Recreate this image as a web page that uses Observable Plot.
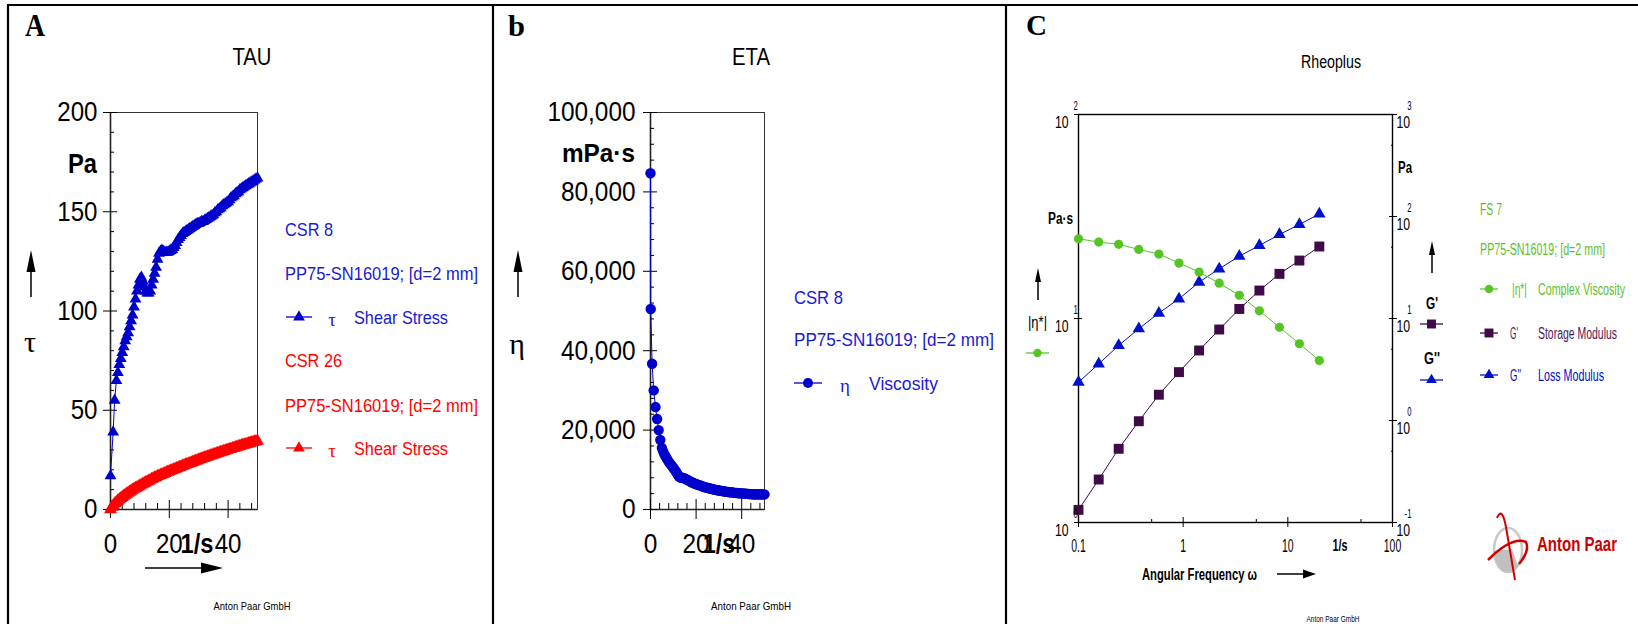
<!DOCTYPE html>
<html>
<head>
<meta charset="utf-8">
<script src="https://cdn.jsdelivr.net/npm/d3@7"></script>
<script src="https://cdn.jsdelivr.net/npm/@observablehq/plot@0.6"></script>
<style>
  body { margin: 0; background: #fff; }
  #fig { position: relative; width: 1638px; height: 624px; overflow: hidden; background: #fff; }
  #fig > svg { position: absolute; left: 0; top: 0; }
</style>
</head>
<body>
<div id="fig"></div>
<script>
// ---------- Panel A: shear stress (Pa) vs shear rate (1/s), two CSR runs ----------
const csr8 = [
  [0,17],[0.9,39],[1.4,55],[2,65],[2.5,69],[3,73],[3.5,76],[4,79],[4.5,82],[5,85],
  [5.5,87],[6,89],[6.5,92],[7,95],[7.5,98],[8,102],[8.5,106],[9,110],[9.5,113],[10,116],
  [10.5,117],[11,115],[11.5,112],[12,110],[12.5,109],[13,109],[13.5,110],[14,113],[14.5,116],[15,119],
  [15.5,122],[16,126],[16.5,129],[17,130],[17.5,130.5],[18,130],[18.5,129.5],[19,129.5],[19.5,129.5],[20,130],
  [20.5,130.5],[21,131],[21.5,132],[22,133],[22.5,134.5],[23,136],[23.5,137],[24,138],[24.5,139],[25,139.5],
  [25.5,140],[26,140.5],[26.5,141],[27,141.5],[27.5,142],[28,142.5],[28.5,143],[29,143.5],[29.5,144],[30,144],
  [30.5,144.5],[31,145],[31.5,145],[32,145.5],[32.5,146],[33,146.5],[33.5,147],[34,147.5],[34.5,148],[35,148.5],
  [35.5,149.5],[36,150],[36.5,151],[37,151.5],[37.5,152],[38,153],[38.5,153.5],[39,154],[39.5,154.5],[40,155],
  [40.5,156],[41,157],[41.5,157.5],[42,158],[42.5,159],[43,159.5],[43.5,160],[44,161],[44.5,161.5],[45,162],
  [45.5,162.5],[46,163],[46.5,163.5],[47,164],[47.5,164.5],[48,165],[48.5,165.5],[49,166],[49.5,166.5],[50,167]
];
const csr26 = [
  [0,0],[0.5,1.3],[1,2.2],[1.5,3],[2,3.7],[2.5,4.4],[3,5],[3.5,5.6],[4,6.2],[4.5,6.8],
  [5,7.3],[5.5,7.8],[6,8.3],[6.5,8.8],[7,9.3],[7.5,9.8],[8,10.3],[8.5,10.7],[9,11.1],[9.5,11.5],
  [10,12],[10.5,12.4],[11,12.8],[11.5,13.2],[12,13.6],[12.5,14],[13,14.4],[13.5,14.8],[14,15.2],[14.5,15.6],
  [15,16],[15.5,16.3],[16,16.7],[16.5,17],[17,17.3],[17.5,17.6],[18,17.9],[18.5,18.2],[19,18.6],[19.5,18.9],
  [20,19.2],[20.5,19.5],[21,19.8],[21.5,20.1],[22,20.4],[22.5,20.7],[23,21],[23.5,21.3],[24,21.6],[24.5,21.9],
  [25,22.2],[25.5,22.5],[26,22.8],[26.5,23],[27,23.3],[27.5,23.6],[28,23.9],[28.5,24.2],[29,24.4],[29.5,24.7],
  [30,25],[30.5,25.3],[31,25.5],[31.5,25.8],[32,26.1],[32.5,26.3],[33,26.6],[33.5,26.9],[34,27.1],[34.5,27.4],
  [35,27.6],[35.5,27.9],[36,28.1],[36.5,28.4],[37,28.6],[37.5,28.9],[38,29.1],[38.5,29.3],[39,29.6],[39.5,29.8],
  [40,30.1],[40.5,30.3],[41,30.5],[41.5,30.8],[42,31],[42.5,31.2],[43,31.5],[43.5,31.7],[44,31.9],[44.5,32.2],
  [45,32.4],[45.5,32.6],[46,32.8],[46.5,33],[47,33.3],[47.5,33.5],[48,33.7],[48.5,33.9],[49,34.1],[49.5,34.3],[50,34.5]
];
const tauTicks = [0, 50, 100, 150, 200];
const tauMinor = [10, 20, 30, 40, 60, 70, 80, 90, 110, 120, 130, 140, 160, 170, 180, 190];
const rateTicks = [0, 20, 40];
const rateMinor = [4, 8, 12, 16, 24, 28, 32, 36, 44, 48];

// ---------- Panel b: viscosity (mPa·s) vs shear rate (1/s) ----------
const viscosity = [
  [0,84700],[0.1,50500],[0.7,36700],[1.4,30000],[2.2,25800],[2.9,22800],[3.6,20000],[4.3,17500],
  [5,15500],[5.5,14700],[6,14000],[6.5,13500],[7,13000],[7.5,12500],[8,12000],[8.5,11600],[9,11300],[9.5,10900],
  [10,10500],[10.5,10100],[11,9700],[11.5,9200],[12,8700],[12.5,8300],[13,8100],[13.5,8000],[14,8000],[14.5,7900],
  [15,7800],[15.5,7650],[16,7500],[16.5,7350],[17,7200],[17.5,7050],[18,6900],[18.5,6750],[19,6600],[19.5,6500],
  [20,6400],[20.5,6300],[21,6200],[21.5,6100],[22,6000],[22.5,5900],[23,5800],[23.5,5700],[24,5600],[24.5,5500],
  [25,5450],[25.5,5400],[26,5300],[26.5,5250],[27,5150],[27.5,5100],[28,5000],[28.5,4950],[29,4900],[29.5,4850],
  [30,4800],[30.5,4750],[31,4700],[31.5,4650],[32,4600],[32.5,4550],[33,4500],[33.5,4450],[34,4400],[34.5,4380],
  [35,4350],[35.5,4320],[36,4300],[36.5,4250],[37,4200],[37.5,4180],[38,4150],[38.5,4120],[39,4100],[39.5,4070],
  [40,4050],[40.5,4020],[41,4000],[41.5,3980],[42,3950],[42.5,3930],[43,3900],[43.5,3880],[44,3870],[44.5,3860],
  [45,3850],[45.5,3840],[46,3830],[46.5,3820],[47,3810],[47.5,3800],[48,3800],[48.5,3800],[49,3800],[49.5,3810],[50,3820]
];
const etaTicks = [0, 20000, 40000, 60000, 80000, 100000];
const etaMinor = [4000, 8000, 12000, 16000, 24000, 28000, 32000, 36000, 44000, 48000, 52000, 56000, 64000, 68000, 72000, 76000, 84000, 88000, 92000, 96000];

// ---------- Panel C: frequency sweep ----------
const omega    = [0.1, 0.156, 0.242, 0.377, 0.586, 0.912, 1.42, 2.21, 3.44, 5.35, 8.32, 12.9, 20];
const etaStar  = [24.6, 23.7, 23.1, 21.8, 20.7, 18.7, 16.9, 14.9, 13.0, 10.9, 9.06, 7.52, 6.22];
const gStorage = [0.133, 0.264, 0.528, 0.984, 1.79, 2.98, 4.86, 7.80, 12.4, 18.8, 27.4, 37.0, 50.8];
const gLoss    = [2.37, 3.59, 5.44, 7.93, 11.3, 15.6, 22.7, 30.7, 40.8, 52.0, 66.6, 83.5, 106];
const omegaTicks = [0.1, 1, 10, 100];
const omegaMinor = [0.5, 5, 50];
const etaStarTicks = [1, 10, 100];
const modulusTicks = [0.1, 1, 10, 100, 1000];
const modulusMinor = [0.5, 5, 50, 500];

const sweep = omega.map((w, i) => ({w, etaStar: etaStar[i], gStorage: gStorage[i], gLoss: gLoss[i]}));

// ---------- look ----------
const W = 1638, H = 624;
const SANS = "'Liberation Sans', Arial, Helvetica, sans-serif";
const SERIF = "'Liberation Serif', 'Times New Roman', serif";
const BLUE = "#0000cc", BLUE_TXT = "#1a1ad2", RED = "#ff0000";
const GREEN = "#55c524", GREEN_TXT = "#5cc02c", PURPLE = "#3e0a47", PURPLE_TXT = "#4d1a57", BLUE_C = "#0010c8";
const base = {width: W, height: H, style: {background: "transparent", fontFamily: SANS, color: "#000", overflow: "visible"}};
const fig = document.getElementById("fig");

function condense(svg, selector, k) {
  svg.querySelectorAll(selector).forEach(t => {
    const len = t.getComputedTextLength();
    if (len > 0) {
      t.setAttribute("textLength", (len * k).toFixed(1));
      t.setAttribute("lengthAdjust", "spacingAndGlyphs");
    }
  });
}
const TICKTEXT = '[aria-label$="tick label"] text';

// Panel A
const plotA = Plot.plot({
  ...base,
  marginLeft: 110, marginRight: W - 257, marginTop: 112, marginBottom: H - 509,
  x: {domain: [0, 50]},
  y: {domain: [0, 200]},
  marks: [
    Plot.frame({stroke: "#333", strokeWidth: 1}),
    Plot.ruleX([0], {stroke: "#222", strokeWidth: 1.6}),
    Plot.ruleY([0], {stroke: "#222", strokeWidth: 1.6}),
    Plot.axisY({ticks: tauTicks, tickSize: 14, dx: 7, tickPadding: 6, fontSize: 28, label: null}),
    Plot.axisY({ticks: tauMinor, tickSize: 4, dx: 4, tickFormat: () => "", label: null}),
    Plot.axisX({ticks: rateTicks, tickSize: 18, dy: -9, tickPadding: 15, fontSize: 28, label: null}),
    Plot.axisX({ticks: rateMinor, tickSize: 6, dy: -6, tickFormat: () => "", label: null}),
    Plot.line(csr26, {x: d => d[0], y: d => d[1], stroke: RED, strokeWidth: 1}),
    Plot.dot(csr26, {x: d => d[0], y: d => d[1], symbol: "triangle", fill: RED, r: 4.8}),
    Plot.line(csr8, {x: d => d[0], y: d => d[1], stroke: BLUE, strokeWidth: 1}),
    Plot.dot(csr8, {x: d => d[0], y: d => d[1], symbol: "triangle", fill: BLUE, r: 4.4})
  ]
});

// Panel b
const plotB = Plot.plot({
  ...base,
  marginLeft: 650, marginRight: W - 764, marginTop: 112, marginBottom: H - 509,
  x: {domain: [0, 50]},
  y: {domain: [0, 100000]},
  marks: [
    Plot.frame({stroke: "#333", strokeWidth: 1}),
    Plot.ruleX([0], {stroke: "#222", strokeWidth: 1.6}),
    Plot.ruleY([0], {stroke: "#222", strokeWidth: 1.6}),
    Plot.axisY({ticks: etaTicks, tickSize: 14, dx: 7, tickPadding: 8, fontSize: 28, tickFormat: d3.format(","), label: null}),
    Plot.axisY({ticks: etaMinor, tickSize: 4, dx: 4, tickFormat: () => "", label: null}),
    Plot.axisX({ticks: rateTicks, tickSize: 20, dy: -10, tickPadding: 14, fontSize: 28, label: null}),
    Plot.axisX({ticks: rateMinor, tickSize: 6, dy: -6, tickFormat: () => "", label: null}),
    Plot.line(viscosity, {x: d => d[0], y: d => d[1], stroke: BLUE, strokeWidth: 1}),
    Plot.dot(viscosity, {x: d => d[0], y: d => d[1], fill: BLUE, r: 5.2})
  ]
});

// Panel C, moduli on the right-hand log axis
const plotCG = Plot.plot({
  ...base,
  marginLeft: 1078, marginRight: W - 1392, marginTop: 114, marginBottom: H - 522,
  x: {type: "log", domain: [0.1, 100]},
  y: {type: "log", domain: [0.1, 1000]},
  marks: [
    Plot.frame({stroke: "#000", strokeWidth: 1.4}),
    Plot.axisX({ticks: omegaTicks, tickSize: 10, dy: -5, tickPadding: 12, fontSize: 18, tickFormat: d => d < 1 ? "0.1" : String(d), label: null}),
    Plot.axisX({ticks: omegaMinor, tickSize: 3, dy: -3, tickFormat: () => "", label: null}),
    Plot.axisY({anchor: "right", ticks: modulusTicks, tickSize: 8, dx: -4, tickFormat: () => "", label: null}),
    Plot.axisY({anchor: "right", ticks: modulusMinor, tickSize: 2, dx: -2, tickFormat: () => "", label: null}),
    Plot.axisY({anchor: "right", ticks: modulusTicks, tickSize: 0, tickPadding: 4, dy: 8, fontSize: 17, tickFormat: () => "10", label: null}),
    Plot.text(modulusTicks, {y: d => d, text: d => String(Math.round(Math.log10(d))), frameAnchor: "right", dx: 19, dy: -9, fontSize: 13}),
    Plot.line(sweep, {x: "w", y: "gStorage", stroke: PURPLE, strokeWidth: 1}),
    Plot.dot(sweep, {x: "w", y: "gStorage", symbol: "square", fill: PURPLE, r: 5.6}),
    Plot.line(sweep, {x: "w", y: "gLoss", stroke: BLUE_C, strokeWidth: 1}),
    Plot.dot(sweep, {x: "w", y: "gLoss", symbol: "triangle", fill: BLUE_C, r: 4.6})
  ]
});

// Panel C, complex viscosity on the left-hand log axis (x axis already drawn above)
const plotCE = Plot.plot({
  ...base,
  marginLeft: 1078, marginRight: W - 1392, marginTop: 114, marginBottom: H - 522,
  x: {type: "log", domain: [0.1, 100], axis: null},
  y: {type: "log", domain: [1, 100]},
  marks: [
    Plot.axisY({ticks: etaStarTicks, tickSize: 8, dx: 4, tickFormat: () => "", label: null}),
    Plot.axisY({ticks: etaStarTicks, tickSize: 0, tickPadding: 10, dy: 8, fontSize: 17, tickFormat: () => "10", label: null}),
    Plot.text(etaStarTicks, {y: d => d, text: d => String(Math.round(Math.log10(d))), frameAnchor: "left", dx: -5, dy: -9, fontSize: 13}),
    Plot.line(sweep, {x: "w", y: "etaStar", stroke: GREEN, strokeWidth: 1}),
    Plot.dot(sweep, {x: "w", y: "etaStar", fill: GREEN, r: 4.6})
  ]
});

for (const p of [plotA, plotB, plotCG, plotCE]) fig.appendChild(p);
condense(plotA, TICKTEXT, 0.86);
condense(plotB, TICKTEXT, 0.87);
condense(plotCG, '[aria-label="x-axis tick label"] text', 0.58);
condense(plotCG, '[aria-label="y-axis tick label"] text', 0.72);
condense(plotCE, '[aria-label="y-axis tick label"] text', 0.72);
condense(plotCG, '[aria-label="text"] text', 0.6);
condense(plotCE, '[aria-label="text"] text', 0.6);

// ---------- overlay: panel borders, titles, axis names, legends ----------
const ov = d3.select(fig).append("svg").attr("width", W).attr("height", H);

function note(str, x, y, o = {}) {
  const t = ov.append("text")
    .attr("x", x).attr("y", y)
    .attr("font-family", o.family || SANS)
    .attr("font-size", o.size || 16)
    .attr("font-weight", o.weight || "normal")
    .attr("fill", o.fill || "#000")
    .attr("text-anchor", o.anchor || "start")
    .attr("dominant-baseline", "central")
    .text(str);
  if (o.width) t.attr("textLength", o.width).attr("lengthAdjust", "spacingAndGlyphs");
  return t;
}
function arrowUp(x, yTip, yEnd, head, half) {
  ov.append("line").attr("x1", x).attr("x2", x).attr("y1", yTip + head - 1).attr("y2", yEnd).attr("stroke", "#000").attr("stroke-width", 1.5);
  ov.append("path").attr("d", `M${x},${yTip}L${x - half},${yTip + head}L${x + half},${yTip + head}Z`).attr("fill", "#000");
}
function arrowRight(x0, xTip, y, head, half) {
  ov.append("line").attr("x1", x0).attr("x2", xTip - head + 1).attr("y1", y).attr("y2", y).attr("stroke", "#000").attr("stroke-width", 1.5);
  ov.append("path").attr("d", `M${xTip},${y}L${xTip - head},${y - half}L${xTip - head},${y + half}Z`).attr("fill", "#000");
}
function swatch(x0, x1, y, color, symbol, size) {
  ov.append("line").attr("x1", x0).attr("x2", x1).attr("y1", y).attr("y2", y).attr("stroke", color).attr("stroke-width", 1.3);
  ov.append("path").attr("transform", `translate(${(x0 + x1) / 2},${y})`).attr("d", d3.symbol(symbol, size)()).attr("fill", color);
}

// borders
const border = (x1, y1, x2, y2) => ov.append("line").attr("x1", x1).attr("y1", y1).attr("x2", x2).attr("y2", y2).attr("stroke", "#000").attr("stroke-width", 2.2);
border(7, 5, W, 5);
border(8, 5, 8, H);
border(493, 5, 493, H);
border(1006, 5, 1006, H);

// Panel A
note("A", 25, 25, {family: SERIF, size: 32, weight: "bold", width: 20});
note("TAU", 252, 57, {size: 23, anchor: "middle", width: 39});
note("Pa", 68, 163, {size: 28, weight: "bold", width: 29});
arrowUp(31, 250, 297, 22, 4.5);
note("τ", 30, 341, {family: SERIF, size: 30, anchor: "middle"});
note("1/s", 197, 543, {size: 28, weight: "bold", anchor: "middle", width: 33});
arrowRight(145, 223, 568, 22, 5.5);
note("CSR 8", 285, 229, {size: 19, fill: BLUE_TXT, width: 48});
note("PP75-SN16019; [d=2 mm]", 285, 273, {size: 19, fill: BLUE_TXT, width: 193});
swatch(286, 312, 317, BLUE, d3.symbolTriangle, 60);
note("τ", 332, 319, {family: SERIF, size: 19, fill: BLUE_TXT, anchor: "middle"});
note("Shear Stress", 354, 317, {size: 19, fill: BLUE_TXT, width: 94});
note("CSR 26", 285, 360, {size: 19, fill: RED, width: 57});
note("PP75-SN16019; [d=2 mm]", 285, 405, {size: 19, fill: RED, width: 193});
swatch(286, 312, 448, RED, d3.symbolTriangle, 60);
note("τ", 332, 450, {family: SERIF, size: 19, fill: RED, anchor: "middle"});
note("Shear Stress", 354, 448, {size: 19, fill: RED, width: 94});
note("Anton Paar GmbH", 252, 606, {size: 10.5, anchor: "middle", width: 77});

// Panel b
note("b", 508, 25, {family: SERIF, size: 30, weight: "bold", width: 17});
note("ETA", 751, 57, {size: 23, anchor: "middle", width: 38});
note("mPa·s", 635, 153, {size: 26, weight: "bold", anchor: "end", width: 73});
arrowUp(518, 250, 297, 22, 4.5);
note("η", 517, 343, {family: SERIF, size: 30, anchor: "middle"});
note("1/s", 719, 543, {size: 28, weight: "bold", anchor: "middle", width: 32});
note("CSR 8", 794, 297, {size: 19, fill: BLUE_TXT, width: 49});
note("PP75-SN16019; [d=2 mm]", 794, 339, {size: 19, fill: BLUE_TXT, width: 200});
swatch(794, 822, 383, BLUE, d3.symbolCircle, 80);
note("η", 845, 385, {family: SERIF, size: 19, fill: BLUE_TXT, anchor: "middle"});
note("Viscosity", 869, 383, {size: 19, fill: BLUE_TXT, width: 69});
note("Anton Paar GmbH", 751, 606, {size: 10.5, anchor: "middle", width: 80});

// Panel C
note("C", 1026, 24, {family: SERIF, size: 30, weight: "bold", width: 21});
note("Rheoplus", 1331, 62, {size: 18, anchor: "middle", width: 60});
note("Pa·s", 1048, 218, {size: 16, weight: "bold", width: 25});
arrowUp(1038, 268, 300, 14, 3);
note("|η*|", 1028, 322, {size: 17, width: 19});
swatch(1026, 1049, 353, GREEN, d3.symbolCircle, 55);
note("Pa", 1398, 167, {size: 17, weight: "bold", width: 14});
arrowUp(1432, 241, 273, 14, 3);
note("G'", 1426, 303, {size: 17, weight: "bold", width: 12});
swatch(1420, 1443, 324, PURPLE, d3.symbolSquare, 80);
note("G''", 1424, 358, {size: 17, weight: "bold", width: 16});
swatch(1420, 1443, 380, BLUE_C, d3.symbolTriangle, 50);
note("FS 7", 1480, 209, {size: 16, fill: GREEN_TXT, width: 22});
note("PP75-SN16019; [d=2 mm]", 1480, 249, {size: 16, fill: GREEN_TXT, width: 125});
swatch(1480, 1498, 289, GREEN, d3.symbolCircle, 55);
note("|η*|", 1512, 289, {size: 16, fill: GREEN_TXT, width: 15});
note("Complex Viscosity", 1538, 289, {size: 16, fill: GREEN_TXT, width: 87});
swatch(1480, 1498, 333, PURPLE, d3.symbolSquare, 80);
note("G'", 1510, 333, {size: 16, fill: PURPLE_TXT, width: 8});
note("Storage Modulus", 1538, 333, {size: 16, fill: PURPLE_TXT, width: 79});
swatch(1480, 1498, 375, BLUE_C, d3.symbolTriangle, 50);
note("G''", 1510, 375, {size: 16, fill: BLUE_C, width: 11});
note("Loss Modulus", 1538, 375, {size: 16, fill: BLUE_C, width: 66});
note("1/s", 1340, 545, {size: 17, weight: "bold", anchor: "middle", width: 15});
note("Angular Frequency ω", 1142, 574, {size: 16, weight: "bold", width: 115});
arrowRight(1277, 1316, 574, 13, 4.5);
note("Anton Paar GmbH", 1333, 619, {size: 9, anchor: "middle", width: 53});

// Anton Paar logo
const logo = ov.append("g");
logo.append("ellipse").attr("cx", 1508).attr("cy", 550).attr("rx", 14).attr("ry", 22).attr("fill", "none").attr("stroke", "#c8c8c8").attr("stroke-width", 2.5);
logo.append("path").attr("d", "M1494,551 A14,22 0 0 0 1518,566 L1512,549 Z").attr("fill", "#c0c0c0");
logo.append("path").attr("d", "M1497,518 Q1502,506 1506,527 L1515,580").attr("fill", "none").attr("stroke", "#d40000").attr("stroke-width", 2);
logo.append("path").attr("d", "M1488,560 Q1512,536 1526,542 Q1530,551 1519,564").attr("fill", "none").attr("stroke", "#d40000").attr("stroke-width", 2.5);
note("Anton Paar", 1537, 543, {size: 21, weight: "bold", fill: "#cc0000", width: 80});
</script>
</body>
</html>
